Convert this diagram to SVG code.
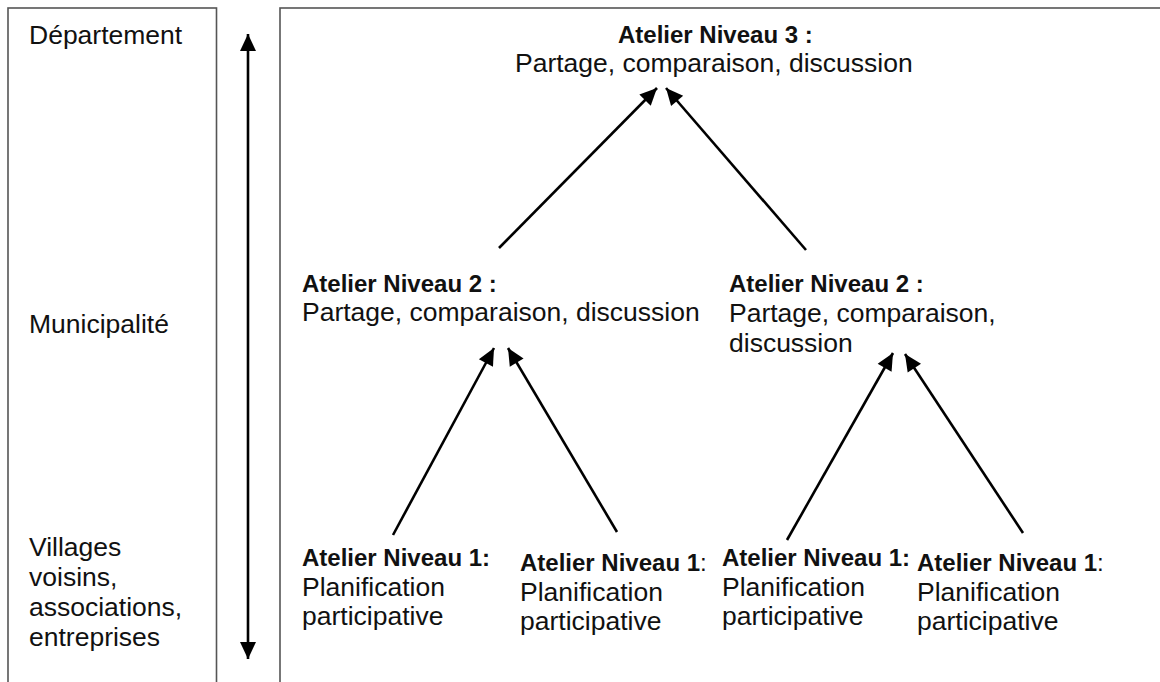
<svg xmlns="http://www.w3.org/2000/svg" width="1160" height="682" viewBox="0 0 1160 682">
<style>
  .frame { fill: none; stroke: #555; stroke-width: 1.6; }
  .t { font-family: "Liberation Sans", Arial, sans-serif; font-size: 26.5px; fill: #111; }
  .b { font-family: "Liberation Sans", Arial, sans-serif; font-size: 24px; font-weight: bold; fill: #111; }
  .r { font-weight: normal; font-size: 24px; }
  .arr { stroke: #000; stroke-width: 2.6; fill: none; marker-end: url(#head); }
  .dbl { stroke: #000; stroke-width: 2.6; fill: none; marker-end: url(#head); marker-start: url(#head); }
</style>
<defs>
  <marker id="head" markerUnits="userSpaceOnUse" markerWidth="20" markerHeight="20" viewBox="0 0 20 20" refX="18" refY="10" orient="auto-start-reverse">
    <path d="M1,2 L18,10 L1,18 Z" fill="#000"/>
  </marker>
</defs>
<rect width="1160" height="682" fill="#fff"/>
<g id="frames">
  <rect class="frame" x="8" y="8" width="208.5" height="700"/>
  <rect class="frame" x="280" y="8" width="900" height="700"/>
</g>
<g id="levels">
  <text class="t" x="29" y="44">Département</text>
  <text class="t" x="29" y="333">Municipalité</text>
  <text class="t" x="29" y="556">Villages</text>
  <text class="t" x="29" y="586">voisins,</text>
  <text class="t" x="29" y="616">associations,</text>
  <text class="t" x="29" y="646">entreprises</text>
</g>
<g id="n3">
  <text class="b" x="618" y="43">Atelier Niveau 3 :</text>
  <text class="t" x="515" y="72">Partage, comparaison, discussion</text>
</g>
<g id="n2a">
  <text class="b" x="302" y="292">Atelier Niveau 2 :</text>
  <text class="t" x="302" y="321">Partage, comparaison, discussion</text>
</g>
<g id="n2b">
  <text class="b" x="729" y="292">Atelier Niveau 2 :</text>
  <text class="t" x="729" y="322">Partage, comparaison,</text>
  <text class="t" x="729" y="352">discussion</text>
</g>
<g id="n1a">
  <text class="b" x="302" y="566">Atelier Niveau 1:</text>
  <text class="t" x="302" y="596">Planification</text>
  <text class="t" x="302" y="625">participative</text>
</g>
<g id="n1b">
  <text class="b" x="520" y="571">Atelier Niveau 1<tspan class="r">:</tspan></text>
  <text class="t" x="520" y="601">Planification</text>
  <text class="t" x="520" y="630">participative</text>
</g>
<g id="n1c">
  <text class="b" x="722" y="566">Atelier Niveau 1:</text>
  <text class="t" x="722" y="596">Planification</text>
  <text class="t" x="722" y="625">participative</text>
</g>
<g id="n1d">
  <text class="b" x="917" y="571">Atelier Niveau 1<tspan class="r">:</tspan></text>
  <text class="t" x="917" y="601">Planification</text>
  <text class="t" x="917" y="630">participative</text>
</g>
<g id="connectors">
  <line class="dbl" x1="248" y1="34" x2="248" y2="659"/>
  <line class="arr" x1="499" y1="248" x2="657" y2="88"/>
  <line class="arr" x1="806" y1="250" x2="666" y2="88"/>
  <line class="arr" x1="393" y1="535" x2="494" y2="348"/>
  <line class="arr" x1="617" y1="532" x2="508" y2="348"/>
  <line class="arr" x1="787" y1="540" x2="893" y2="353"/>
  <line class="arr" x1="1023" y1="533" x2="905" y2="354"/>
</g>
</svg>
